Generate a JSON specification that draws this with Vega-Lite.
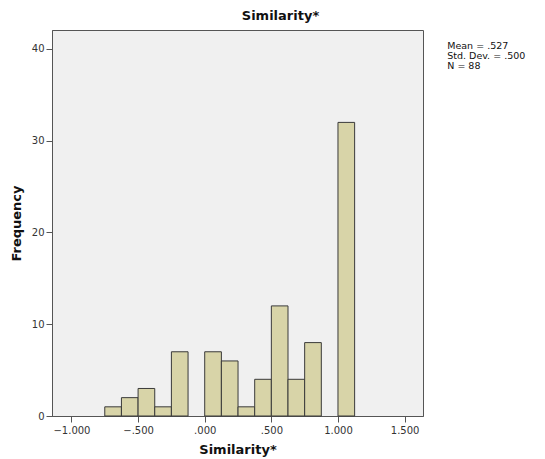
{
  "$schema": "https://vega.github.io/schema/vega-lite/v6.json",
  "autosize": {"type": "none"},
  "width": 371,
  "height": 386,
  "padding": {"left": 52, "top": 30, "right": 122, "bottom": 43},
  "background": "white",
  "title": {"text": "Similarity*", "font": "DejaVu Sans", "fontSize": 13, "fontWeight": "bold", "color": "#111", "offset": 7, "anchor": "middle", "dx": 43},
  "config": {
    "view": {"fill": "#f0f0f0", "stroke": "#555555", "strokeWidth": 1},
    "axis": {"grid": false, "labelFont": "DejaVu Sans", "labelFontSize": 10, "labelColor": "#333", "titleFont": "DejaVu Sans", "titleFontSize": 13, "titleFontWeight": "bold", "titleColor": "#111", "domainColor": "#555", "tickColor": "#555", "tickSize": 6}
  },
  "layer": [
    {
      "data": {"values": [
        {"lo": -0.75, "hi": -0.625, "count": 1},
        {"lo": -0.625, "hi": -0.5, "count": 2},
        {"lo": -0.5, "hi": -0.375, "count": 3},
        {"lo": -0.375, "hi": -0.25, "count": 1},
        {"lo": -0.25, "hi": -0.125, "count": 7},
        {"lo": 0.0, "hi": 0.125, "count": 7},
        {"lo": 0.125, "hi": 0.25, "count": 6},
        {"lo": 0.25, "hi": 0.375, "count": 1},
        {"lo": 0.375, "hi": 0.5, "count": 4},
        {"lo": 0.5, "hi": 0.625, "count": 12},
        {"lo": 0.625, "hi": 0.75, "count": 4},
        {"lo": 0.75, "hi": 0.875, "count": 8},
        {"lo": 1.0, "hi": 1.125, "count": 32}
      ]},
      "mark": {"type": "bar", "fill": "#d8d4a8", "stroke": "#3a3a3a", "strokeWidth": 1},
      "encoding": {
        "x": {"field": "lo", "type": "quantitative", "title": "Similarity*",
              "scale": {"domain": [-1.146, 1.638], "nice": false, "zero": false},
              "axis": {"values": [-1, -0.5, 0, 0.5, 1, 1.5], "labelExpr": "replace(format(datum.value, '.3f'), '0.', '.')", "titlePadding": 8, "labelPadding": 3}},
        "x2": {"field": "hi"},
        "y": {"field": "count", "type": "quantitative", "title": "Frequency",
              "scale": {"domain": [0, 42.07], "nice": false, "padding": 0},
              "axis": {"values": [0, 10, 20, 30, 40], "titlePadding": 8, "labelPadding": 2}},
        "y2": {"datum": 0}
      }
    },
    {
      "data": {"values": [
        {"x": 1.82, "y": 40.3, "label": "Mean = .527"},
        {"x": 1.82, "y": 39.2, "label": "Std. Dev. = .500"},
        {"x": 1.82, "y": 38.1, "label": "N = 88"}
      ]},
      "mark": {"type": "text", "align": "left", "baseline": "middle", "font": "DejaVu Sans", "fontSize": 9.5, "color": "#111", "clip": false},
      "encoding": {
        "x": {"field": "x", "type": "quantitative"},
        "y": {"field": "y", "type": "quantitative"},
        "text": {"field": "label"}
      }
    }
  ]
}
